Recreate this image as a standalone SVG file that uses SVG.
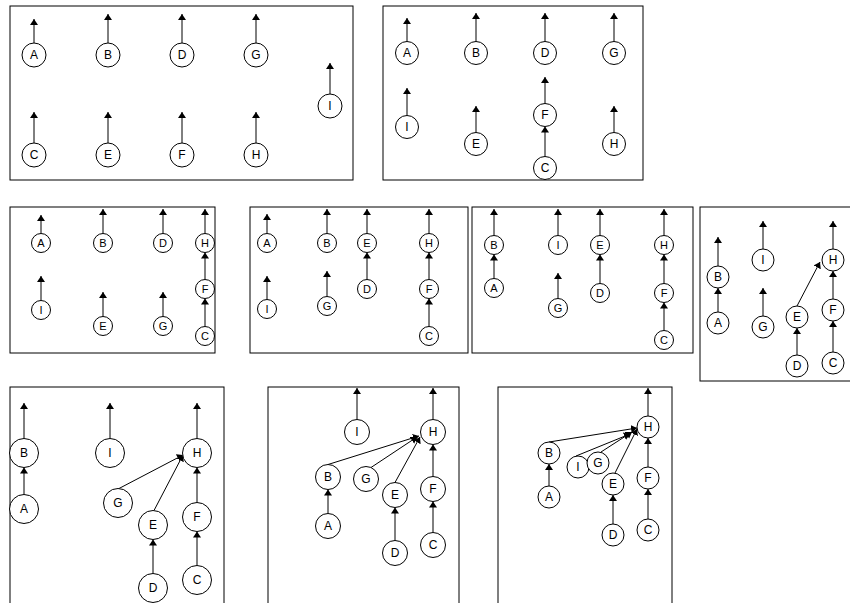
<svg xmlns="http://www.w3.org/2000/svg" width="850" height="603" viewBox="0 0 850 603">
<style>
.frame{fill:none;stroke:#000;stroke-width:1}
.node circle{fill:#fff;stroke:#000;stroke-width:1}
.node text{font-family:"Liberation Sans",Arial,sans-serif;font-size:12px;text-anchor:middle;fill:#000}
.sm text{font-size:11px}
.edge{stroke:#000;stroke-width:1;fill:none;marker-end:url(#ah)}
</style>
<defs>
<marker id="ah" markerUnits="userSpaceOnUse" markerWidth="7" markerHeight="9" refX="6" refY="4" orient="auto" viewBox="0 0 7 9">
<path d="M0,0 L6,4 L0,8 z" fill="#000"/>
</marker>
</defs>
<rect x="0" y="0" width="850" height="603" fill="#fff"/>
<g id="frames">
<rect class="frame" x="10" y="6" width="343" height="174"/>
<rect class="frame" x="383" y="6" width="260" height="174"/>
<rect class="frame" x="10" y="207" width="205" height="146"/>
<rect class="frame" x="250" y="207" width="218" height="146"/>
<rect class="frame" x="472" y="207" width="221" height="146"/>
<rect class="frame" x="700" y="207" width="155" height="174"/>
<rect class="frame" x="10" y="387" width="214" height="225"/>
<rect class="frame" x="268" y="387" width="191" height="225"/>
<rect class="frame" x="498" y="387" width="174" height="225"/>
</g>
<g id="connectors">
<!-- panel 1 -->
<line class="edge" x1="34" y1="43" x2="34" y2="19"/>
<line class="edge" x1="108" y1="43" x2="108" y2="14"/>
<line class="edge" x1="182" y1="43" x2="182" y2="14"/>
<line class="edge" x1="256" y1="43" x2="256" y2="14"/>
<line class="edge" x1="330" y1="94" x2="330" y2="63"/>
<line class="edge" x1="34" y1="143" x2="34" y2="112"/>
<line class="edge" x1="108" y1="143" x2="108" y2="112"/>
<line class="edge" x1="182" y1="143" x2="182" y2="112"/>
<line class="edge" x1="256" y1="143" x2="256" y2="112"/>
<!-- panel 2 -->
<line class="edge" x1="407" y1="41.5" x2="407" y2="18"/>
<line class="edge" x1="476" y1="41.5" x2="476" y2="13"/>
<line class="edge" x1="545" y1="41.5" x2="545" y2="13"/>
<line class="edge" x1="614" y1="41.5" x2="614" y2="13"/>
<line class="edge" x1="407" y1="115.5" x2="407" y2="88"/>
<line class="edge" x1="476" y1="132.5" x2="476" y2="106"/>
<line class="edge" x1="545" y1="103.5" x2="545" y2="77"/>
<line class="edge" x1="545" y1="156.5" x2="545" y2="126.5"/>
<line class="edge" x1="614" y1="132.5" x2="614" y2="106"/>
<!-- panel 3 -->
<line class="edge" x1="41" y1="233.5" x2="41" y2="215"/>
<line class="edge" x1="103" y1="233.5" x2="103" y2="209"/>
<line class="edge" x1="163" y1="233.5" x2="163" y2="209"/>
<line class="edge" x1="205" y1="233.5" x2="205" y2="209"/>
<line class="edge" x1="41" y1="300.5" x2="41" y2="276"/>
<line class="edge" x1="103" y1="316.5" x2="103" y2="292"/>
<line class="edge" x1="163" y1="316.5" x2="163" y2="292"/>
<line class="edge" x1="205" y1="279.5" x2="205" y2="252.5"/>
<line class="edge" x1="205" y1="326.5" x2="205" y2="298.5"/>
<!-- panel 4 -->
<line class="edge" x1="267" y1="233.5" x2="267" y2="214"/>
<line class="edge" x1="327" y1="233.5" x2="327" y2="209"/>
<line class="edge" x1="367" y1="233.5" x2="367" y2="209"/>
<line class="edge" x1="429" y1="233.5" x2="429" y2="209"/>
<line class="edge" x1="267" y1="299.5" x2="267" y2="276"/>
<line class="edge" x1="327" y1="296.5" x2="327" y2="271"/>
<line class="edge" x1="367" y1="279.5" x2="367" y2="252.5"/>
<line class="edge" x1="429" y1="279.5" x2="429" y2="252.5"/>
<line class="edge" x1="429" y1="326.5" x2="429" y2="298.5"/>
<!-- panel 5 -->
<line class="edge" x1="494" y1="235.5" x2="494" y2="209"/>
<line class="edge" x1="494" y1="278.5" x2="494" y2="254.5"/>
<line class="edge" x1="558" y1="235.5" x2="558" y2="209"/>
<line class="edge" x1="558" y1="298.5" x2="558" y2="273"/>
<line class="edge" x1="600" y1="235.5" x2="600" y2="209"/>
<line class="edge" x1="600" y1="283.5" x2="600" y2="254.5"/>
<line class="edge" x1="664" y1="235.5" x2="664" y2="209"/>
<line class="edge" x1="664" y1="283.5" x2="664" y2="254.5"/>
<line class="edge" x1="664" y1="330.5" x2="664" y2="302.5"/>
<!-- panel 6 -->
<line class="edge" x1="718" y1="266" x2="718" y2="237"/>
<line class="edge" x1="718" y1="312" x2="718" y2="288"/>
<line class="edge" x1="763" y1="249" x2="763" y2="221"/>
<line class="edge" x1="763" y1="316" x2="763" y2="288"/>
<line class="edge" x1="833" y1="249" x2="833" y2="221"/>
<line class="edge" x1="833" y1="299" x2="833" y2="271"/>
<line class="edge" x1="833" y1="352" x2="833" y2="321"/>
<line class="edge" x1="797" y1="306" x2="820" y2="262"/>
<line class="edge" x1="797" y1="355" x2="797" y2="328"/>
<!-- panel 7 -->
<line class="edge" x1="24" y1="438.5" x2="24" y2="403"/>
<line class="edge" x1="24" y1="494.5" x2="24" y2="467.5"/>
<line class="edge" x1="110" y1="438.5" x2="110" y2="403"/>
<line class="edge" x1="197" y1="438.5" x2="197" y2="403"/>
<line class="edge" x1="119" y1="488.5" x2="183" y2="455"/>
<line class="edge" x1="154" y1="510.5" x2="183" y2="455"/>
<line class="edge" x1="197" y1="502.5" x2="197" y2="467.5"/>
<line class="edge" x1="153" y1="573.5" x2="153" y2="539.5"/>
<line class="edge" x1="197" y1="565.5" x2="197" y2="531.5"/>
<!-- panel 8 -->
<line class="edge" x1="357" y1="419.5" x2="357" y2="388"/>
<line class="edge" x1="433" y1="419.5" x2="433" y2="388"/>
<line class="edge" x1="328" y1="464.5" x2="419" y2="436"/>
<line class="edge" x1="371" y1="467.5" x2="417" y2="437"/>
<line class="edge" x1="395" y1="482.5" x2="420" y2="437"/>
<line class="edge" x1="433" y1="476.5" x2="433" y2="444.5"/>
<line class="edge" x1="328" y1="513.5" x2="328" y2="489.5"/>
<line class="edge" x1="395" y1="540.5" x2="395" y2="507.5"/>
<line class="edge" x1="433" y1="532.5" x2="433" y2="501.5"/>
<!-- panel 9 -->
<line class="edge" x1="648" y1="416" x2="648" y2="388"/>
<line class="edge" x1="549" y1="442" x2="637" y2="428"/>
<line class="edge" x1="576" y1="456" x2="630" y2="434"/>
<line class="edge" x1="601" y1="452" x2="632" y2="432"/>
<line class="edge" x1="615" y1="473" x2="637" y2="429"/>
<line class="edge" x1="648" y1="467" x2="648" y2="438"/>
<line class="edge" x1="549" y1="486" x2="549" y2="464"/>
<line class="edge" x1="613" y1="524" x2="613" y2="495"/>
<line class="edge" x1="648" y1="519" x2="648" y2="489"/>
</g>
<!-- panel 1 nodes -->
<g id="p1-A" class="node"><circle cx="34" cy="55" r="12"/><text x="34" y="59">A</text></g>
<g id="p1-B" class="node"><circle cx="108" cy="55" r="12"/><text x="108" y="59">B</text></g>
<g id="p1-D" class="node"><circle cx="182" cy="55" r="12"/><text x="182" y="59">D</text></g>
<g id="p1-G" class="node"><circle cx="256" cy="55" r="12"/><text x="256" y="59">G</text></g>
<g id="p1-I" class="node"><circle cx="330" cy="106" r="12"/><text x="330" y="110">I</text></g>
<g id="p1-C" class="node"><circle cx="34" cy="155" r="12"/><text x="34" y="159">C</text></g>
<g id="p1-E" class="node"><circle cx="108" cy="155" r="12"/><text x="108" y="159">E</text></g>
<g id="p1-F" class="node"><circle cx="182" cy="155" r="12"/><text x="182" y="159">F</text></g>
<g id="p1-H" class="node"><circle cx="256" cy="155" r="12"/><text x="256" y="159">H</text></g>
<!-- panel 2 nodes -->
<g id="p2-A" class="node"><circle cx="407" cy="53" r="11.5"/><text x="407" y="57">A</text></g>
<g id="p2-B" class="node"><circle cx="476" cy="53" r="11.5"/><text x="476" y="57">B</text></g>
<g id="p2-D" class="node"><circle cx="545" cy="53" r="11.5"/><text x="545" y="57">D</text></g>
<g id="p2-G" class="node"><circle cx="614" cy="53" r="11.5"/><text x="614" y="57">G</text></g>
<g id="p2-I" class="node"><circle cx="407" cy="127" r="11.5"/><text x="407" y="131">I</text></g>
<g id="p2-E" class="node"><circle cx="476" cy="144" r="11.5"/><text x="476" y="148">E</text></g>
<g id="p2-F" class="node"><circle cx="545" cy="115" r="11.5"/><text x="545" y="119">F</text></g>
<g id="p2-C" class="node"><circle cx="545" cy="168" r="11.5"/><text x="545" y="172">C</text></g>
<g id="p2-H" class="node"><circle cx="614" cy="144" r="11.5"/><text x="614" y="148">H</text></g>
<!-- panel 3 nodes -->
<g id="p3-A" class="node sm"><circle cx="41" cy="243" r="9.5"/><text x="41" y="247">A</text></g>
<g id="p3-B" class="node sm"><circle cx="103" cy="243" r="9.5"/><text x="103" y="247">B</text></g>
<g id="p3-D" class="node sm"><circle cx="163" cy="243" r="9.5"/><text x="163" y="247">D</text></g>
<g id="p3-H" class="node sm"><circle cx="205" cy="243" r="9.5"/><text x="205" y="247">H</text></g>
<g id="p3-I" class="node sm"><circle cx="41" cy="310" r="9.5"/><text x="41" y="314">I</text></g>
<g id="p3-E" class="node sm"><circle cx="103" cy="326" r="9.5"/><text x="103" y="330">E</text></g>
<g id="p3-G" class="node sm"><circle cx="163" cy="326" r="9.5"/><text x="163" y="330">G</text></g>
<g id="p3-F" class="node sm"><circle cx="205" cy="289" r="9.5"/><text x="205" y="293">F</text></g>
<g id="p3-C" class="node sm"><circle cx="205" cy="336" r="9.5"/><text x="205" y="340">C</text></g>
<!-- panel 4 nodes -->
<g id="p4-A" class="node sm"><circle cx="267" cy="243" r="9.5"/><text x="267" y="247">A</text></g>
<g id="p4-B" class="node sm"><circle cx="327" cy="243" r="9.5"/><text x="327" y="247">B</text></g>
<g id="p4-E" class="node sm"><circle cx="367" cy="243" r="9.5"/><text x="367" y="247">E</text></g>
<g id="p4-H" class="node sm"><circle cx="429" cy="243" r="9.5"/><text x="429" y="247">H</text></g>
<g id="p4-I" class="node sm"><circle cx="267" cy="309" r="9.5"/><text x="267" y="313">I</text></g>
<g id="p4-G" class="node sm"><circle cx="327" cy="306" r="9.5"/><text x="327" y="310">G</text></g>
<g id="p4-D" class="node sm"><circle cx="367" cy="289" r="9.5"/><text x="367" y="293">D</text></g>
<g id="p4-F" class="node sm"><circle cx="429" cy="289" r="9.5"/><text x="429" y="293">F</text></g>
<g id="p4-C" class="node sm"><circle cx="429" cy="336" r="9.5"/><text x="429" y="340">C</text></g>
<!-- panel 5 nodes -->
<g id="p5-B" class="node sm"><circle cx="494" cy="245" r="9.5"/><text x="494" y="249">B</text></g>
<g id="p5-A" class="node sm"><circle cx="494" cy="288" r="9.5"/><text x="494" y="292">A</text></g>
<g id="p5-I" class="node sm"><circle cx="558" cy="245" r="9.5"/><text x="558" y="249">I</text></g>
<g id="p5-G" class="node sm"><circle cx="558" cy="308" r="9.5"/><text x="558" y="312">G</text></g>
<g id="p5-E" class="node sm"><circle cx="600" cy="245" r="9.5"/><text x="600" y="249">E</text></g>
<g id="p5-D" class="node sm"><circle cx="600" cy="293" r="9.5"/><text x="600" y="297">D</text></g>
<g id="p5-H" class="node sm"><circle cx="664" cy="245" r="9.5"/><text x="664" y="249">H</text></g>
<g id="p5-F" class="node sm"><circle cx="664" cy="293" r="9.5"/><text x="664" y="297">F</text></g>
<g id="p5-C" class="node sm"><circle cx="664" cy="340" r="9.5"/><text x="664" y="344">C</text></g>
<!-- panel 6 nodes -->
<g id="p6-B" class="node"><circle cx="718" cy="277" r="11"/><text x="718" y="281">B</text></g>
<g id="p6-A" class="node"><circle cx="718" cy="323" r="11"/><text x="718" y="327">A</text></g>
<g id="p6-I" class="node"><circle cx="763" cy="260" r="11"/><text x="763" y="264">I</text></g>
<g id="p6-G" class="node"><circle cx="763" cy="327" r="11"/><text x="763" y="331">G</text></g>
<g id="p6-H" class="node"><circle cx="833" cy="260" r="11"/><text x="833" y="264">H</text></g>
<g id="p6-F" class="node"><circle cx="833" cy="310" r="11"/><text x="833" y="314">F</text></g>
<g id="p6-C" class="node"><circle cx="833" cy="363" r="11"/><text x="833" y="367">C</text></g>
<g id="p6-E" class="node"><circle cx="797" cy="317" r="11"/><text x="797" y="321">E</text></g>
<g id="p6-D" class="node"><circle cx="797" cy="366" r="11"/><text x="797" y="370">D</text></g>
<!-- panel 7 nodes -->
<g id="p7-B" class="node"><circle cx="24" cy="453" r="14.5"/><text x="24" y="457">B</text></g>
<g id="p7-A" class="node"><circle cx="24" cy="509" r="14.5"/><text x="24" y="513">A</text></g>
<g id="p7-I" class="node"><circle cx="110" cy="453" r="14.5"/><text x="110" y="457">I</text></g>
<g id="p7-H" class="node"><circle cx="197" cy="453" r="14.5"/><text x="197" y="457">H</text></g>
<g id="p7-G" class="node"><circle cx="118" cy="503" r="14.5"/><text x="118" y="507">G</text></g>
<g id="p7-E" class="node"><circle cx="153" cy="525" r="14.5"/><text x="153" y="529">E</text></g>
<g id="p7-F" class="node"><circle cx="197" cy="517" r="14.5"/><text x="197" y="521">F</text></g>
<g id="p7-D" class="node"><circle cx="153" cy="588" r="14.5"/><text x="153" y="592">D</text></g>
<g id="p7-C" class="node"><circle cx="197" cy="580" r="14.5"/><text x="197" y="584">C</text></g>
<!-- panel 8 nodes -->
<g id="p8-I" class="node"><circle cx="357" cy="432" r="12.5"/><text x="357" y="436">I</text></g>
<g id="p8-H" class="node"><circle cx="433" cy="432" r="12.5"/><text x="433" y="436">H</text></g>
<g id="p8-B" class="node"><circle cx="328" cy="477" r="12.5"/><text x="328" y="481">B</text></g>
<g id="p8-G" class="node"><circle cx="366" cy="479" r="12.5"/><text x="366" y="483">G</text></g>
<g id="p8-E" class="node"><circle cx="395" cy="495" r="12.5"/><text x="395" y="499">E</text></g>
<g id="p8-F" class="node"><circle cx="433" cy="489" r="12.5"/><text x="433" y="493">F</text></g>
<g id="p8-A" class="node"><circle cx="328" cy="526" r="12.5"/><text x="328" y="530">A</text></g>
<g id="p8-D" class="node"><circle cx="395" cy="553" r="12.5"/><text x="395" y="557">D</text></g>
<g id="p8-C" class="node"><circle cx="433" cy="545" r="12.5"/><text x="433" y="549">C</text></g>
<!-- panel 9 nodes -->
<g id="p9-H" class="node"><circle cx="648" cy="427" r="11"/><text x="648" y="431">H</text></g>
<g id="p9-B" class="node"><circle cx="549" cy="453" r="11"/><text x="549" y="457">B</text></g>
<g id="p9-I" class="node"><circle cx="578" cy="467" r="11"/><text x="578" y="471">I</text></g>
<g id="p9-G" class="node"><circle cx="598" cy="463" r="11"/><text x="598" y="467">G</text></g>
<g id="p9-E" class="node"><circle cx="613" cy="484" r="11"/><text x="613" y="488">E</text></g>
<g id="p9-F" class="node"><circle cx="648" cy="478" r="11"/><text x="648" y="482">F</text></g>
<g id="p9-A" class="node"><circle cx="549" cy="497" r="11"/><text x="549" y="501">A</text></g>
<g id="p9-D" class="node"><circle cx="613" cy="535" r="11"/><text x="613" y="539">D</text></g>
<g id="p9-C" class="node"><circle cx="648" cy="530" r="11"/><text x="648" y="534">C</text></g>
</svg>
